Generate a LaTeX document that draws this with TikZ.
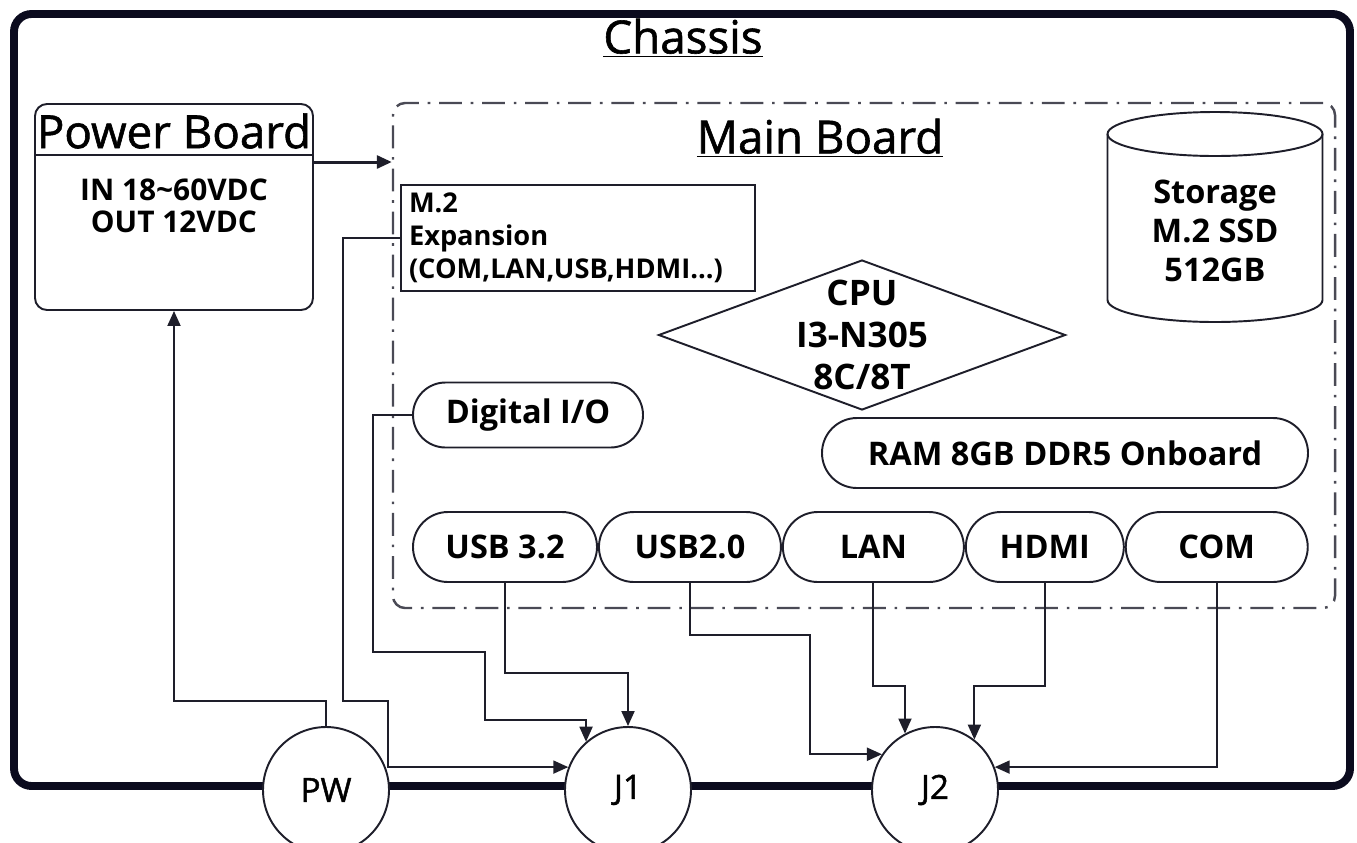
\documentclass[tikz,border=0pt]{standalone}
\usepackage{fontspec}
\setmainfont{Open Sans}
\newfontfamily\midfont{Open Sans}[FakeBold=1.3]
\usetikzlibrary{arrows.meta,shapes.geometric,shapes.misc,positioning,calc}
\definecolor{frame}{HTML}{0B0B1E}
\definecolor{edge}{HTML}{1E1E2A}
\definecolor{dashc}{HTML}{4A4A55}

\begin{document}
\begin{tikzpicture}[x=0.2mm,y=-0.2mm,
  box/.style={draw=edge,line width=1.1pt,font=\fontsize{18.5}{22}\selectfont\bfseries},
  pill/.style={box,rounded rectangle,minimum height=14mm,inner sep=0pt},
  port/.style={circle,draw=edge,line width=1.1pt,fill=white,minimum size=25.2mm,inner sep=0pt,font=\fontsize{19}{22}\selectfont\midfont},
  wire/.style={draw=edge,line width=1.1pt},
  conn/.style={wire,-{Triangle[length=3mm,width=2.6mm]}},
  title/.style={font=\fontsize{26}{30}\selectfont\midfont}]
\clip (0,0) rectangle (1357,842);

% chassis
\draw[frame,line width=4.5pt,rounded corners=10pt] (14,14) rectangle (1350,786);
\node[title] (chas) at (683,38) {\underline{Chassis}};

% power board
\node[box,rounded corners=2.4mm,minimum width=55.6mm,minimum height=41.2mm] (pb) at (174,207) {};
\node[title] (pbt) at (174,131) {Power Board};
\draw[wire] (pb.west |- 0,155) -- (pb.east |- 0,155);
\node[font=\fontsize{17}{18.5}\selectfont\bfseries,align=center] (pbs) at (174,206) {IN 18\char`\~60VDC\\OUT 12VDC};

% main board
\node[draw=dashc,line width=1.4pt,dash pattern=on 13pt off 5pt on 1.5pt off 5pt,
  rounded corners=2.4mm,minimum width=188.4mm,minimum height=101mm] (mb) at (864,355.5) {};
\node[title] (mbt) at (820,138) {\underline{Main Board}};
\draw[line width=1.7pt,draw=edge,-{Triangle[length=3mm,width=2.6mm]}] (pb.east |- 0,162) -- (mb.west |- 0,162);

\node[box,font=\fontsize{15.5}{18.7}\selectfont\bfseries,minimum width=70.8mm,minimum height=20mm,
  inner sep=1.6mm,text width=67.6mm,align=left] (m2) at (578,238)
  {M.2\\Expansion\\(COM,LAN,USB,HDMI...)};

% storage
\draw[wire,fill=white] (1107.5,134) -- (1107.5,300)
  arc[start angle=180,end angle=360,x radius=21.5mm,y radius=4.4mm] -- (1322.5,134);
\draw[wire] (1215,134) ellipse [x radius=21.5mm,y radius=4.4mm];
\node[font=\fontsize{18.5}{22}\selectfont\bfseries,align=center] (stor) at (1215,231) {Storage\\M.2 SSD\\512GB};

\node[box,diamond,aspect=2.7,inner sep=-1.2mm,minimum width=81.4mm,minimum height=30mm,
  align=center,font=\fontsize{20}{24}\selectfont\bfseries] (cpu) at (862,335) {CPU\\I3-N305\\8C/8T};

\node[pill,minimum width=46mm,minimum height=13mm] (dio) at (528,415) {Digital I/O};
\node[pill,minimum width=97.2mm] (ram) at (1065,453) {RAM 8GB DDR5 Onboard};

\node[pill,minimum width=36.8mm] (usb3) at (505,547) {USB 3.2};
\node[pill,minimum width=36.4mm,right=0mm of usb3] (usb2) {USB2.0};
\node[pill,minimum width=36.2mm,right=0mm of usb2] (lan) {LAN};
\node[pill,minimum width=31.6mm,right=0mm of lan] (hdmi) {HDMI};
\node[pill,minimum width=36.4mm,right=0mm of hdmi] (com) {COM};

% connectors
\node[port] (pw) at (326,790) {PW};
\node[port] (j1) at (628,790) {J1};
\node[port] (j2) at (935,790) {J2};

\draw[conn] (pw.north) -- (pw.north |- 0,701) -| (pb.south);
\draw[conn] (m2.west) -| (343,701) -- (388,701) |- (j1.159);
\draw[conn] (dio.west) -| (373,652) -- (485,652) -- (485,720) -| (j1.131);
\draw[conn] (usb3.south) -- (usb3.south |- 0,673) -| (j1.north);
\draw[conn] (usb2.south) -- (usb2.south |- 0,635) -| (810,700) |- (j2.146);
\draw[conn] (lan.south) -- (lan.south |- 0,686) -| (j2.118);
\draw[conn] (hdmi.south) -- (hdmi.south |- 0,686) -| (j2.52);
\draw[conn] (com.south) |- (j2.21);
\end{tikzpicture}
\end{document}
